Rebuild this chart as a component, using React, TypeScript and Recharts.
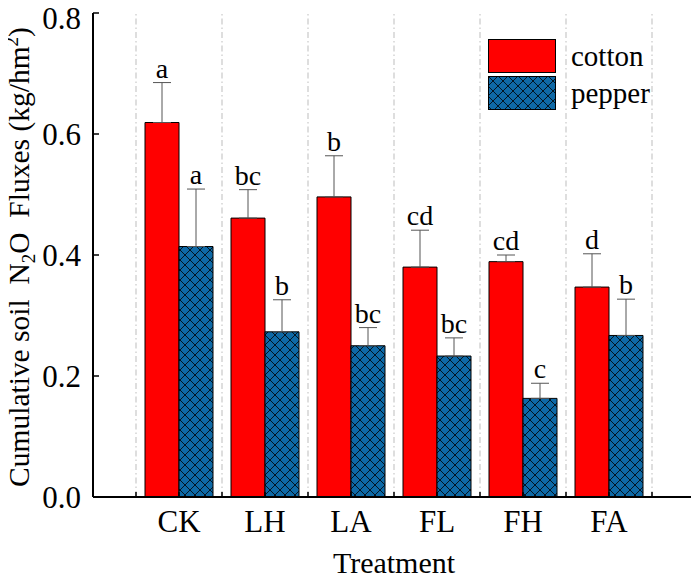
import React from 'react'
import {
  ComposedChart,
  Bar,
  XAxis,
  YAxis,
  ErrorBar,
  LabelList,
  Legend,
  ReferenceLine,
} from 'recharts'

const categories = ['CK', 'LH', 'LA', 'FL', 'FH', 'FA']
const cotton = [0.619, 0.461, 0.496, 0.38, 0.389, 0.347]
const cottonErr = [0.066, 0.047, 0.068, 0.061, 0.011, 0.055]
const pepper = [0.414, 0.273, 0.25, 0.233, 0.163, 0.267]
const pepperErr = [0.095, 0.053, 0.03, 0.03, 0.025, 0.06]
const cottonSig = ['a', 'bc', 'b', 'cd', 'cd', 'd']
const pepperSig = ['a', 'b', 'bc', 'bc', 'c', 'b']
const yTicks = [0, 0.2, 0.4, 0.6, 0.8]

const FONT = '"Liberation Serif", "Times New Roman", serif'
const RED = '#ff0000'
const BLUE = '#0e69a6'

const data = categories.map((name, i) => ({
  name,
  cotton: cotton[i],
  pepper: pepper[i],
  cottonErr: [0, cottonErr[i]],
  pepperErr: [0, pepperErr[i]],
  cottonSig: cottonSig[i],
  pepperSig: pepperSig[i],
}))

const HatchDef = ({ id }: { id: string }) => (
  <defs>
    <pattern id={id} patternUnits="userSpaceOnUse" width={10} height={10}>
      <rect width={10} height={10} fill={BLUE} />
      <path d="M0,0 L10,10 M10,0 L0,10" stroke="#000" strokeWidth={0.8} />
    </pattern>
  </defs>
)

// letter above the error bar: scale taken from the bar's own pixel height
const sigLabel = (values: number[], errs: number[]) => (props: any) => {
  const { x, y, width, height, value, index } = props
  const v = values[index]
  const top = y - (errs[index] * height) / v
  return (
    <text x={x + width / 2} y={top - 5} textAnchor="middle" fontSize={28} fill="#000" fontFamily={FONT}>
      {value}
    </text>
  )
}

// dash-dot grid line between groups, with a small inward tick at the bottom
const GridLine = (props: any) => {
  const { x1, y1, x2, y2 } = props
  const bottom = Math.max(y1, y2)
  return (
    <g>
      <line x1={x1} y1={y1} x2={x2} y2={y2} stroke="#bdbdbd" strokeWidth={1} strokeDasharray="6 3 1.5 3" />
      <line x1={x1} y1={bottom} x2={x1} y2={bottom - 5} stroke="#000" strokeWidth={1.5} />
    </g>
  )
}

const YLabel = () => {
  const bx = 29
  const cy = 257
  return (
    <text
      x={bx}
      y={cy}
      transform={`rotate(-90, ${bx}, ${cy})`}
      textAnchor="middle"
      fontSize={29.5}
      fill="#000"
      fontFamily={FONT}
    >
      Cumulative soil{'\u00a0\u00a0'}N
      <tspan fontSize={19} dy={6}>2</tspan>
      <tspan dy={-6}>O{'\u00a0\u00a0'}Fluxes (kg/hm</tspan>
      <tspan fontSize={19} dy={-11}>2</tspan>
      <tspan dy={11}>)</tspan>
    </text>
  )
}

const XLabel = () => (
  <text x={394} y={573} textAnchor="middle" fontSize={30} fill="#000" fontFamily={FONT}>
    Treatment
  </text>
)

const LegendBox = () => {
  const items = [
    { name: 'cotton', fill: RED },
    { name: 'pepper', fill: 'url(#hatchLegend)' },
  ]
  return (
    <div style={{ fontFamily: FONT }}>
      {items.map((it) => (
        <div key={it.name} style={{ display: 'flex', alignItems: 'center', height: 37 }}>
          <svg width={68} height={34}>
            <HatchDef id="hatchLegend" />
            <rect x={0.5} y={0.5} width={67} height={33} fill={it.fill} stroke="#000" strokeWidth={1} />
          </svg>
          <span style={{ fontSize: 29, marginLeft: 15, color: '#000', lineHeight: '34px' }}>{it.name}</span>
        </div>
      ))}
    </div>
  )
}

export default function App() {
  return (
    <div style={{ margin: -8, width: 699, height: 582, background: '#fff', fontFamily: FONT }}>
      <ComposedChart
        width={699}
        height={582}
        data={data}
        margin={{ top: 13, right: 4, left: 0, bottom: 0 }}
        barGap={0}
        barSize={34}
      >
        <HatchDef id="hatch" />
        <XAxis
          dataKey="name"
          interval={0}
          height={85}
          padding={{ left: 43, right: 43 }}
          axisLine={{ stroke: '#000', strokeWidth: 2 }}
          tickLine={{ stroke: '#000', strokeWidth: 1.5 }}
          tickSize={-5}
          tickMargin={18}
          tick={{ fill: '#000', fontSize: 31, fontFamily: FONT }}
          label={<XLabel />}
        />
        <XAxis
          xAxisId="top"
          dataKey="name"
          orientation="top"
          height={0}
          padding={{ left: 43, right: 43 }}
          tick={false}
          tickLine={false}
          axisLine={{ stroke: '#000', strokeWidth: 2 }}
        />
        <YAxis
          type="number"
          domain={[0, 0.8]}
          ticks={yTicks}
          width={93}
          tickFormatter={(v: number) => v.toFixed(1)}
          axisLine={{ stroke: '#000', strokeWidth: 2 }}
          tickLine={{ stroke: '#000', strokeWidth: 1.5 }}
          tickSize={-6}
          tickMargin={18}
          tick={{ fill: '#000', fontSize: 31, fontFamily: FONT }}
          label={<YLabel />}
        />
        <YAxis
          yAxisId="right"
          orientation="right"
          type="number"
          domain={[0, 0.8]}
          width={0}
          tick={false}
          tickLine={false}
          axisLine={{ stroke: '#000', strokeWidth: 2 }}
        />
        {categories.map((c) => (
          <ReferenceLine key={c} x={c} position="start" shape={<GridLine />} />
        ))}
        <ReferenceLine x={categories[categories.length - 1]} position="end" shape={<GridLine />} />
        <Legend
          layout="vertical"
          align="center"
          verticalAlign="middle"
          content={<LegendBox />}
          wrapperStyle={{ left: 488, top: 37, width: 'auto', right: 'auto', bottom: 'auto' }}
        />
        <Bar dataKey="cotton" name="cotton" fill={RED} stroke="#000" strokeWidth={1} isAnimationActive={false}>
          <ErrorBar dataKey="cottonErr" width={9} stroke="#555" strokeWidth={1} direction="y" isAnimationActive={false} />
          <LabelList dataKey="cottonSig" content={sigLabel(cotton, cottonErr)} />
        </Bar>
        <Bar dataKey="pepper" name="pepper" fill="url(#hatch)" stroke="#000" strokeWidth={1} isAnimationActive={false}>
          <ErrorBar dataKey="pepperErr" width={9} stroke="#555" strokeWidth={1} direction="y" isAnimationActive={false} />
          <LabelList dataKey="pepperSig" content={sigLabel(pepper, pepperErr)} />
        </Bar>
      </ComposedChart>
    </div>
  )
}
